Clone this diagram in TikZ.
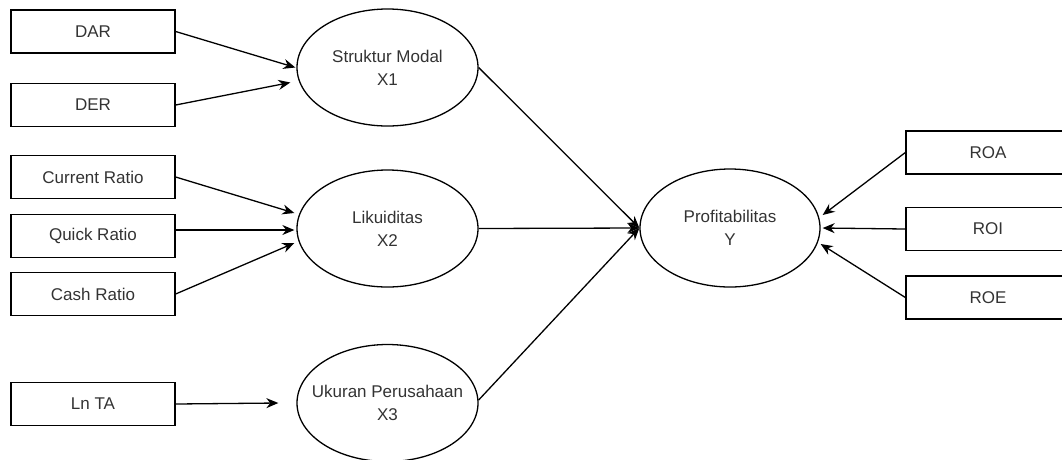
\documentclass[tikz,border=0pt]{standalone}
\usepackage{fontspec}
\setmainfont{Liberation Sans}
\usetikzlibrary{arrows.meta,shapes.geometric}
\definecolor{txt}{HTML}{333333}
\begin{document}
\begin{tikzpicture}[x=1pt,y=-1pt,
  every node/.style={font=\fontsize{17}{23}\selectfont, text=txt},
  box/.style={draw=black, line width=1.3pt, minimum width=164pt, minimum height=43pt, inner sep=0pt},
  latent/.style={draw=black, line width=1.3pt, ellipse, minimum width=181pt, minimum height=117pt, inner sep=0pt, align=center},
  arr/.style={line width=1.3pt, -{Stealth[length=12pt,width=10pt]}}]
\useasboundingbox (0,0) rectangle (1062,459);
\clip (0,0) rectangle (1062,459);
% left indicators
\node[box] (dar) at (93,31.5) {DAR};
\node[box] (der) at (93,105) {DER};
\node[box] (cr) at (93,177) {Current Ratio};
\node[box] (qr) at (93,236) {Quick Ratio};
\node[box] (cashr) at (93,294) {Cash Ratio};
\node[box] (lnta) at (93,404) {Ln TA};
% latent variables
\node[latent] (sm) at (387.5,67.5) {\makebox[0pt]{Struktur Modal}\\X1};
\node[latent] (lk) at (387.5,228.5) {Likuiditas\\X2};
\node[latent] (uk) at (387.5,403) {\makebox[0pt]{Ukuran Perusahaan}\\X3};
\node[latent, minimum width=180pt, minimum height=118pt] (prof) at (730,228) {\makebox[0pt]{Profitabilitas}\\Y};
% right indicators
\node[box] (roa) at (988,152.5) {ROA};
\node[box] (roi) at (988,229) {ROI};
\node[box] (roe) at (988,297.5) {ROE};
% connectors
\draw[arr] (dar.east) -- ([xshift=-1pt]sm.west);
\draw[arr] (der.east) -- ([xshift=-6pt,yshift=-15pt]sm.west);
\draw[arr] (cr.east) -- ([xshift=-2pt,yshift=15.5pt]lk.west);
\draw[arr] ([yshift=6pt]qr.east) -- ([xshift=-2pt,yshift=-1.5pt]lk.west);
\draw[arr] (cashr.east) -- ([xshift=-2pt,yshift=-14.5pt]lk.west);
\draw[arr] (lnta.east) -- ([xshift=-18pt]uk.west);
\draw[arr] (sm.east) -- (prof.west);
\draw[arr] (lk.east) -- (prof.west);
\draw[arr] ([yshift=3pt]uk.east) -- (prof.west);
\draw[arr] (roa.west) -- ([xshift=2pt,yshift=13pt]prof.east);
\draw[arr] (roi.west) -- ([xshift=2pt]prof.east);
\draw[arr] (roe.west) -- ([yshift=-16pt]prof.east);
\end{tikzpicture}
\end{document}
